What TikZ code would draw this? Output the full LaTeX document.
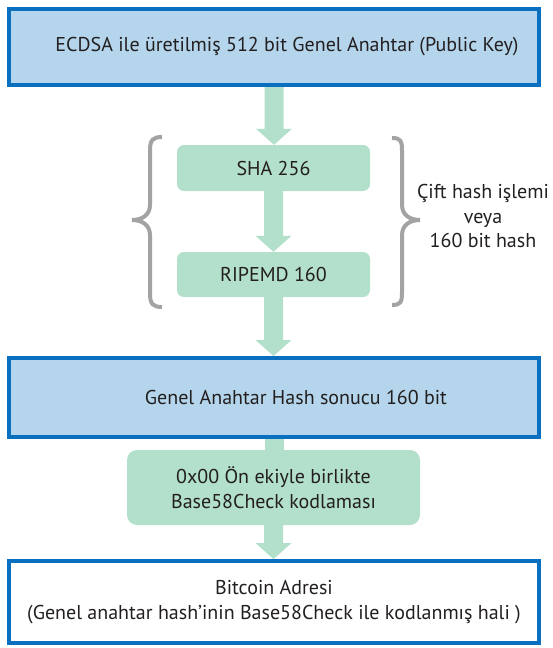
\documentclass[tikz,border=0pt]{standalone}
\usepackage{fontspec}
\setmainfont{PT Sans}
\usetikzlibrary{calc,backgrounds}
\definecolor{boxblue}{HTML}{B4D5EB}
\definecolor{edgeblue}{HTML}{0B6FC0}
\definecolor{mint}{HTML}{B3E0CA}
\definecolor{bracegray}{HTML}{A3A3A3}
\definecolor{ink}{HTML}{231F20}
\begin{document}
\begin{tikzpicture}[x=1pt,y=-1pt,
  bluebox/.style={draw=edgeblue, line width=4pt, fill=boxblue, minimum width=530pt,
    inner sep=0pt, text=ink, font=\fontsize{20}{25}\selectfont},
  whitebox/.style={bluebox, fill=white, align=center},
  greenbox/.style={fill=mint, rounded corners=7pt, inner sep=0pt, text=ink, align=center,
    font=\fontsize{20}{25}\selectfont},
  sidetext/.style={text=ink, align=center, font=\fontsize{20}{24.5}\selectfont},
  bracestyle/.style={draw=bracegray, line width=4pt},
  blockarrow/.style={fill=mint, to path={let \p1=(\tikztostart), \p2=(\tikztotarget) in
    (\x1-9.5pt,\y1) -- (\x1+9.5pt,\y1) -- (\x1+9.5pt,\y2+16pt) -- (\x1+18pt,\y2+16pt) -- (\x1,\y2)
    -- (\x1-18pt,\y2+16pt) -- (\x1-9.5pt,\y2+16pt) -- cycle}},
  plainshaft/.style={fill=mint, to path={let \p1=(\tikztostart), \p2=(\tikztotarget) in
    (\x1-9.5pt,\y1) rectangle (\x1+9.5pt,\y2)}}
]
\useasboundingbox (0,0) rectangle (552,648);

\node[bluebox, minimum height=76pt] (pk) at (274,47)
  {\hspace*{26pt}ECDSA ile üretilmiş 512 bit Genel Anahtar (Public Key)};
\node[greenbox, minimum width=193pt, minimum height=46pt] (sha) at (273.5,168) {SHA 256};
\node[greenbox, minimum width=193pt, minimum height=45pt] (rip) at (273.5,274.5) {RIPEMD 160};
\node[bluebox, minimum height=79pt] (hash) at (274,397.5)
  {\hspace*{44pt}Genel Anahtar Hash sonucu 160 bit};
\node[greenbox, minimum width=293pt, minimum height=75pt, rounded corners=10pt] (enc) at (273.5,487.5)
  {0x00 Ön ekiyle birlikte\\Base58Check kodlaması};
\node[whitebox, minimum height=82pt] (addr) at (274,602)
  {Bitcoin Adresi\\(Genel anahtar hash’inin Base58Check ile kodlanmış hali )};
\node[sidetext] (note) at (483,216) {Çift hash işlemi\\veya\\160 bit hash};

\begin{scope}[on background layer]
  \path[blockarrow] (pk.south) to (sha.north);
  \path[blockarrow] (sha.south) to (rip.north);
  \path[blockarrow] (rip.south) to (hash.north);
  \path[plainshaft] (hash.south) to (enc.north);
  \path[blockarrow] (enc.south) to (addr.north);
\end{scope}

\draw[bracestyle] (162,137) .. controls (153,137) and (150,140) .. (150,150)
  -- (150,205) .. controls (150,215) and (142,220) .. (132,220)
  .. controls (142,220) and (150,225) .. (150,235)
  -- (150,294) .. controls (150,304) and (153,307) .. (162,307);
\draw[bracestyle] (392,138) .. controls (401,138) and (402,141) .. (402,151)
  -- (402,205) .. controls (402,215) and (410,220) .. (420,220)
  .. controls (410,220) and (402,225) .. (402,235)
  -- (402,292) .. controls (402,302) and (401,305) .. (392,305);
\end{tikzpicture}
\end{document}
